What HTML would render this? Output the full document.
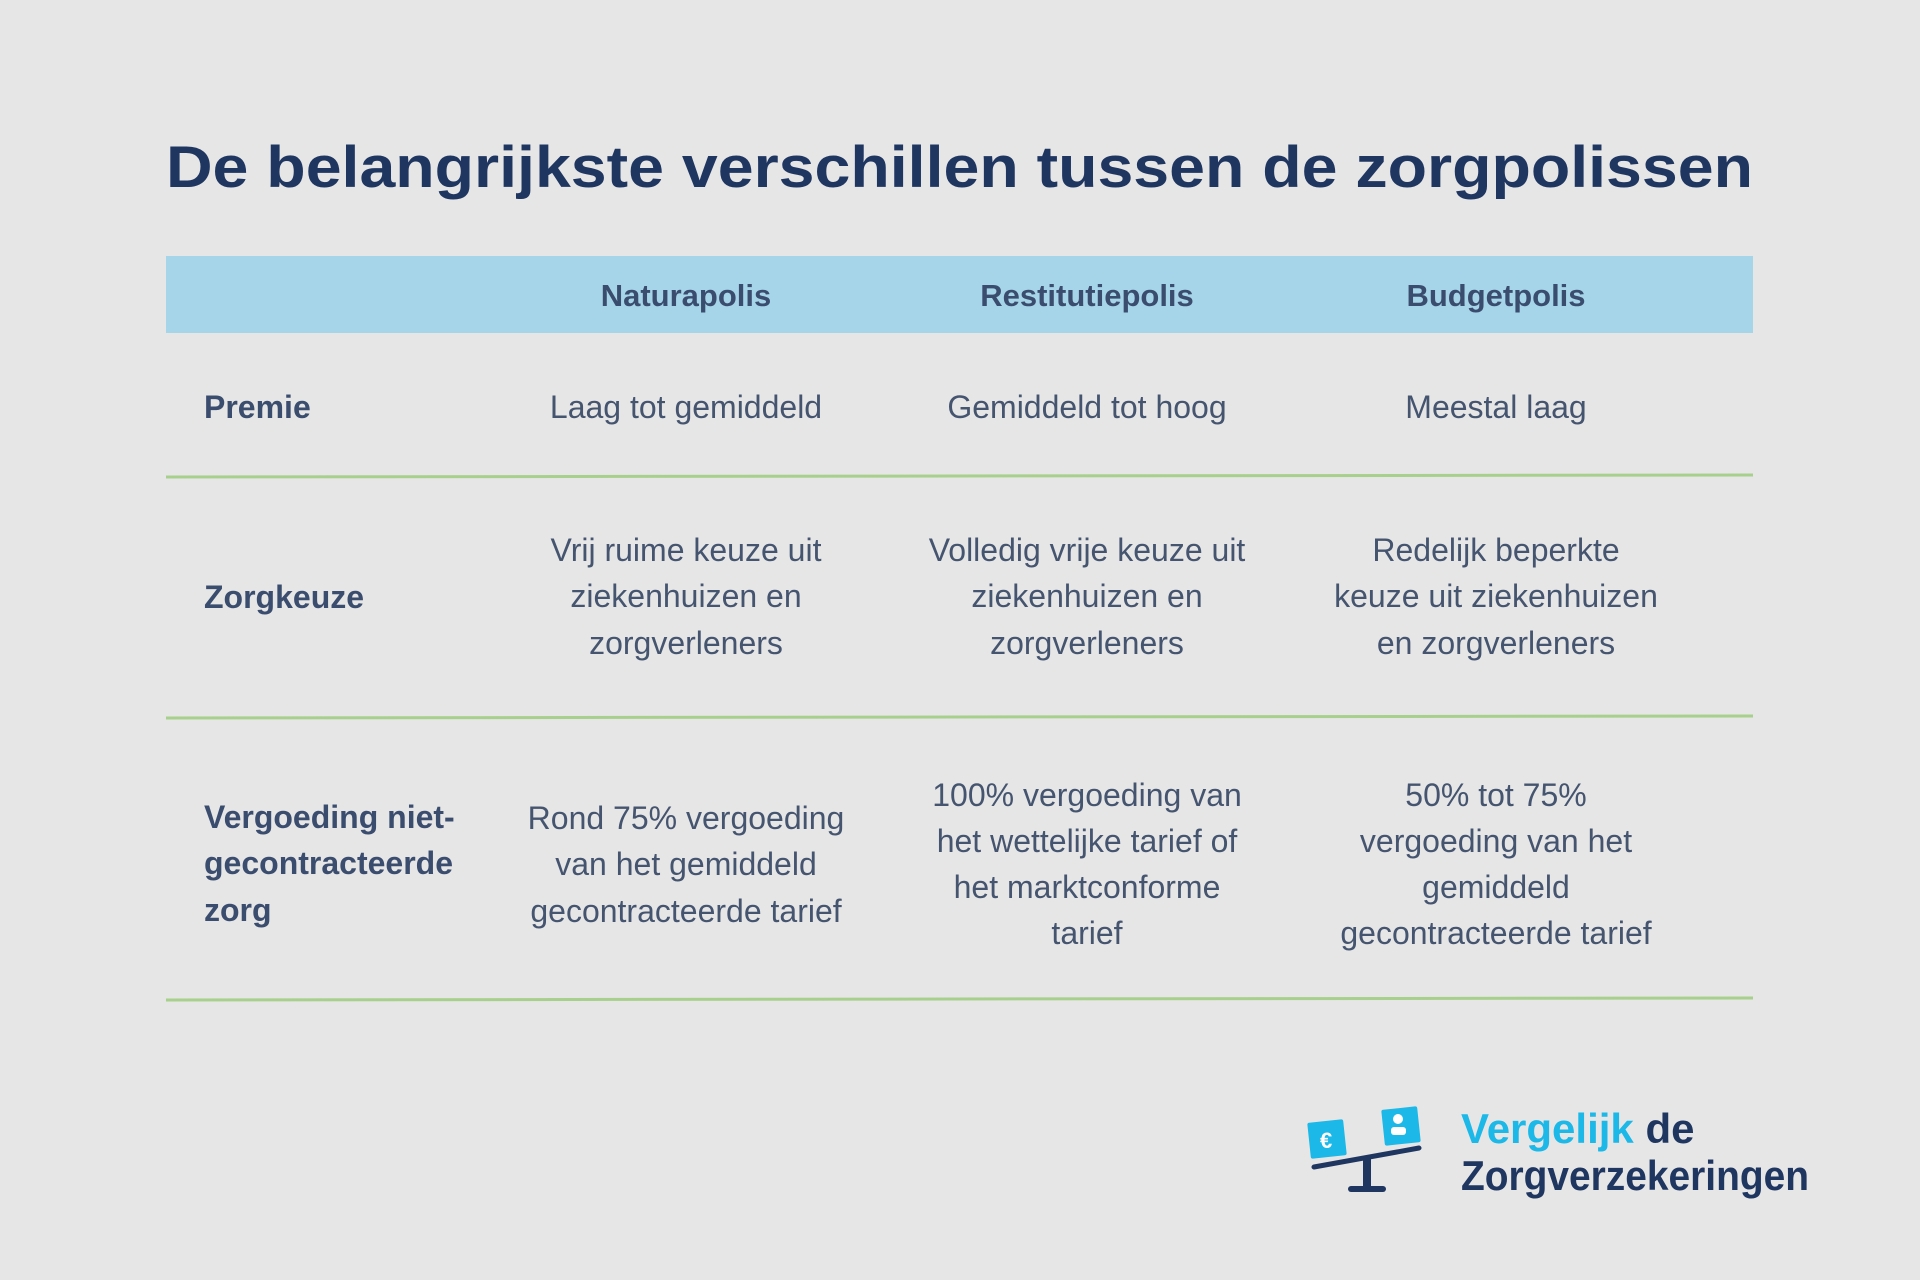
<!DOCTYPE html>
<html><head><meta charset="utf-8"><style>
html,body{margin:0;padding:0;background:#e6e6e6;}
svg{display:block}
text{font-family:"Liberation Sans",sans-serif;}
.h{font-weight:bold;fill:#3b4d6e;font-size:31px;text-anchor:middle}
.l{font-weight:bold;fill:#3b4d6e;font-size:32px}
.b{fill:#45546f;font-size:32px;text-anchor:middle}
</style></head><body>
<svg width="1920" height="1280" viewBox="0 0 1920 1280">
<rect width="1920" height="1280" fill="#e6e6e6"/>
<text x="166" y="187" font-size="58" font-weight="bold" fill="#1f3661" textLength="1587" lengthAdjust="spacingAndGlyphs">De belangrijkste verschillen tussen de zorgpolissen</text>
<rect x="166" y="256" width="1587" height="77" fill="#a6d5e9"/>
<text class="h" x="686" y="306">Naturapolis</text>
<text class="h" x="1087" y="306">Restitutiepolis</text>
<text class="h" x="1496" y="306">Budgetpolis</text>
<g stroke="#a8d08d" stroke-width="3">
<line x1="166" y1="477" x2="1753" y2="475"/>
<line x1="166" y1="718" x2="1753" y2="716"/>
<line x1="166" y1="1000" x2="1753" y2="998"/>
</g>
<text class="l" x="204" y="418">Premie</text>
<text class="b" x="686" y="418">Laag tot gemiddeld</text>
<text class="b" x="1087" y="418">Gemiddeld tot hoog</text>
<text class="b" x="1496" y="418">Meestal laag</text>
<text class="l" x="204" y="608">Zorgkeuze</text>
<text class="b" x="686" y="561">Vrij ruime keuze uit</text>
<text class="b" x="686" y="607">ziekenhuizen en</text>
<text class="b" x="686" y="654">zorgverleners</text>
<text class="b" x="1087" y="561">Volledig vrije keuze uit</text>
<text class="b" x="1087" y="607">ziekenhuizen en</text>
<text class="b" x="1087" y="654">zorgverleners</text>
<text class="b" x="1496" y="561">Redelijk beperkte</text>
<text class="b" x="1496" y="607">keuze uit ziekenhuizen</text>
<text class="b" x="1496" y="654">en zorgverleners</text>
<text class="l" x="204" y="828">Vergoeding niet-</text>
<text class="l" x="204" y="874">gecontracteerde</text>
<text class="l" x="204" y="921">zorg</text>
<text class="b" x="686" y="829">Rond 75% vergoeding</text>
<text class="b" x="686" y="875">van het gemiddeld</text>
<text class="b" x="686" y="922">gecontracteerde tarief</text>
<text class="b" x="1087" y="806">100% vergoeding van</text>
<text class="b" x="1087" y="852">het wettelijke tarief of</text>
<text class="b" x="1087" y="898">het marktconforme</text>
<text class="b" x="1087" y="944">tarief</text>
<text class="b" x="1496" y="806">50% tot 75%</text>
<text class="b" x="1496" y="852">vergoeding van het</text>
<text class="b" x="1496" y="898">gemiddeld</text>
<text class="b" x="1496" y="944">gecontracteerde tarief</text>
<!-- logo -->
<rect x="1309" y="1121" width="36" height="36" rx="2" fill="#1bb8e8" transform="rotate(-6 1327 1139)"/>
<text x="1320" y="1148" font-size="22" font-weight="bold" fill="#fff">€</text>
<rect x="1383" y="1108" width="36" height="36" rx="2" fill="#1bb8e8" transform="rotate(-6 1401 1126)"/>
<circle cx="1398" cy="1119" r="5" fill="#fff"/>
<rect x="1391" y="1127" width="15" height="8" rx="3" fill="#fff"/>
<line x1="1314" y1="1167" x2="1419" y2="1148" stroke="#1f3661" stroke-width="5" stroke-linecap="round"/>
<rect x="1363" y="1158" width="8" height="30" fill="#1f3661"/>
<rect x="1348" y="1186" width="38" height="6" rx="3" fill="#1f3661"/>
<text x="1461" y="1143" font-size="42" font-weight="bold" fill="#1bb8e8">Vergelijk <tspan fill="#1f3661">de</tspan></text>
<text x="1461" y="1190" font-size="42" font-weight="bold" fill="#1f3661" textLength="348" lengthAdjust="spacingAndGlyphs">Zorgverzekeringen</text>
</svg>
</body></html>
